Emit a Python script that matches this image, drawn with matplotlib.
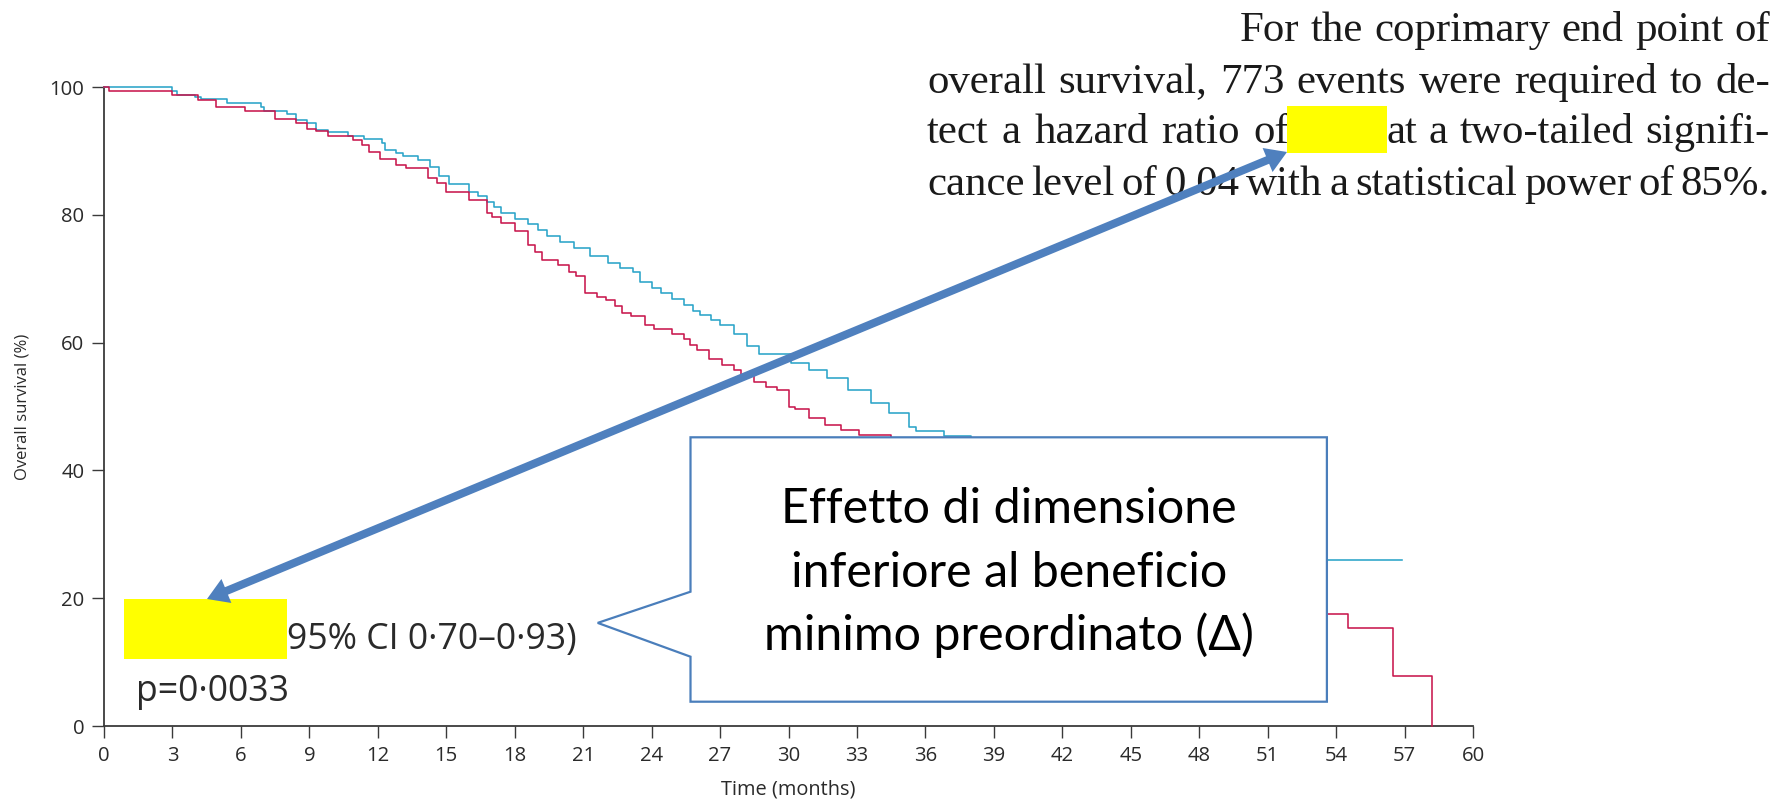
import numpy as np
import matplotlib
matplotlib.use("Agg")
import matplotlib.pyplot as plt
from matplotlib.patches import Polygon, Rectangle
from matplotlib.font_manager import fontManager

# ---------------- data ----------------
blue_t = [0, 3.0, 3.2, 4.0, 4.25, 5.4, 6.9, 7.0, 8.0, 8.4, 8.9, 9.3, 9.8, 10.7, 11.4,
          12.2, 12.3, 12.8, 13.1, 13.75, 14.3, 14.7, 15.1, 16.0, 16.4, 16.8, 17.1, 17.4,
          18.0, 18.6, 19.0, 19.4, 20.0, 20.6, 21.3, 22.1, 22.6, 23.2, 23.5, 24.0, 24.4,
          24.9, 25.4, 25.8, 26.1, 26.6, 27.0, 27.6, 28.2, 28.7,
          30.1, 30.9, 31.7, 32.6, 33.6, 34.4, 35.3, 35.6, 36.8,
          38.0, 39.5, 41.0, 42.5, 44.0, 45.5, 47.0, 49.0, 51.0, 52.5, 56.9]
blue_s = [100, 99.4, 98.8, 98.5, 98.1, 97.5, 96.9, 96.2, 95.8, 94.9, 94.3, 93.3, 93.0,
          92.3, 91.8, 91.2, 90.1, 89.7, 89.2, 88.6, 87.5, 86.0, 84.8, 83.5, 82.9, 82.0,
          81.2, 80.3, 79.4, 78.6, 77.6, 76.7, 75.7, 74.8, 73.6, 72.4, 71.6, 71.0, 69.5,
          68.5, 67.7, 66.8, 65.9, 65.0, 64.3, 63.5, 62.8, 61.3, 59.5, 58.2,
          56.8, 55.7, 54.4, 52.6, 50.5, 49.0, 46.8, 46.1, 45.4,
          43.5, 41.0, 38.5, 36.0, 34.0, 32.0, 30.0, 28.0, 26.9, 25.9, 25.9]

red_t = [0, 0.2, 3.0, 4.1, 4.9, 6.2, 7.5, 8.4, 8.9, 9.3, 9.8, 10.9, 11.3, 11.6, 12.1,
         12.8, 13.25, 14.2, 14.6, 15.0, 16.0, 16.8, 17.0, 17.4, 18.0, 18.6, 18.9, 19.2,
         19.9, 20.4, 20.7, 21.1, 21.6, 22.0, 22.4, 22.7, 23.1, 23.7, 24.1, 24.9, 25.4,
         25.7, 26.0, 26.5, 27.1, 27.6, 27.9, 28.5, 29.0, 29.5, 30.0, 30.3, 30.9, 31.6,
         32.3, 33.1,
         34.5, 36.0, 37.5, 39.0, 40.5, 42.0, 44.0, 46.0, 48.0, 50.0, 52.0, 53.0,
         54.5, 56.5, 58.2]
red_s = [100, 99.4, 98.8, 98.0, 96.8, 96.3, 95.0, 94.3, 93.5, 93.1, 92.4, 91.7, 90.9,
         89.9, 88.7, 87.8, 87.3, 85.7, 84.9, 83.6, 82.3, 80.3, 79.7, 78.7, 77.4, 75.3,
         74.2, 72.9, 72.1, 71.1, 70.4, 67.8, 67.2, 66.6, 65.7, 64.7, 64.1, 62.8, 62.1,
         61.3, 60.5, 59.6, 58.8, 57.5, 56.5, 55.7, 54.7, 53.9, 53.1, 52.6, 50.0, 49.6,
         48.2, 47.1, 46.4, 45.5,
         43.0, 40.5, 38.0, 35.5, 33.0, 30.5, 28.0, 25.5, 23.0, 20.5, 18.5, 17.5,
         15.4, 7.8, 0.0]

x_ticks = list(range(0, 61, 3))
y_ticks = [0, 20, 40, 60, 80, 100]
x_label = "Time (months)"
y_label = "Overall survival (%)"
ci_text = "95% CI 0·70–0·93)"
p_text = "p=0·0033"
callout_lines = ["Effetto di dimensione", "inferiore al beneficio", "minimo preordinato (Δ)"]
quote_line1 = "For the coprimary end point of"
quote_line2 = "overall survival, 773 events were required to de-"
quote_line3a = "tect a hazard ratio of"
quote_line3b = "at a two-tailed signifi-"
quote_line4 = "cance level of 0.04 with a statistical power of 85%."

# ---------------- fonts ----------------
avail = {f.name for f in fontManager.ttflist}
def pick(*names):
    for n in names:
        if n in avail:
            return n
    return "DejaVu Sans"
SANS = pick("Open Sans", "Noto Sans", "DejaVu Sans")
SERIF = pick("Liberation Serif", "DejaVu Serif")
CALL = pick("Lato", "Open Sans", "DejaVu Sans")
plt.rcParams["font.family"] = [SANS, "DejaVu Sans"]

W, H, DPI = 1792, 802, 100
fig = plt.figure(figsize=(W / DPI, H / DPI), dpi=DPI)
fig.patch.set_facecolor("white")

# main axes placement (pixels)
X0, X1, Y0, Y1 = 104, 1473, 726, 87
ax = fig.add_axes([X0 / W, 1 - Y0 / H, (X1 - X0) / W, (Y0 - Y1) / H])
ax.step(blue_t, blue_s, where="post", color="#2aa4c9", lw=1.15, clip_on=False, zorder=3)
ax.step(red_t, red_s, where="post", color="#c8184e", lw=1.15, clip_on=False, zorder=3)
ax.set_xlim(0, 60)
ax.set_ylim(0, 100)
ax.set_xticks(x_ticks)
ax.set_yticks(y_ticks)
for s in ["top", "right"]:
    ax.spines[s].set_visible(False)
for s in ["left", "bottom"]:
    ax.spines[s].set_color("#3a3a3a")
    ax.spines[s].set_linewidth(1.3)
ax.tick_params(axis="both", length=8.6, width=1.0, color="#3a3a3a",
               labelsize=14.6, labelcolor="#2a2a2a")
ax.tick_params(axis="x", pad=6)
ax.tick_params(axis="y", pad=5.5)
ax.set_xlabel(x_label, fontsize=14.4, color="#2a2a2a")
ax.xaxis.set_label_coords(0.5, -(789 - Y0) / (Y0 - Y1))
ax.xaxis.label.set_va("center")
ax.set_ylabel(y_label, fontsize=12, color="#2a2a2a")
ax.yaxis.set_label_coords((23 - X0) / (X1 - X0), 0.5)
ax.yaxis.label.set_va("center")
ax.yaxis.label.set_ha("center")

# overlay axes in pixel coordinates
ov = fig.add_axes([0, 0, 1, 1], zorder=10)
ov.set_xlim(0, W)
ov.set_ylim(H, 0)
ov.axis("off")
ov.patch.set_alpha(0)

r = fig.canvas.get_renderer()

def text_w(s, **kw):
    t = ov.text(0, 0, s, **kw)
    w = t.get_window_extent(renderer=r).width
    t.remove()
    return w

def justify(words, xa, xb, y, **kw):
    ws = [text_w(w, **kw) for w in words]
    gap = (xb - xa - sum(ws)) / max(len(words) - 1, 1)
    x = xa
    for w, wd in zip(words, ws):
        ov.text(x, y, w, ha="left", va="baseline", **kw)
        x += wd + gap

# ---- serif quote (top right) ----
QL, QR = 927, 1770
spans = [(quote_line1, 1240, QR), (quote_line2, QL, QR), (quote_line3a, QL, 1289),
         (quote_line3b, 1386, QR), (quote_line4, QL, QR)]
BASE = 31.0
qfs = BASE
for line, a, b in spans:
    words = line.split()
    tot = sum(text_w(w, family=SERIF, fontsize=BASE) for w in words)
    avail_w = b - a - 7 * (len(words) - 1)
    if tot > avail_w:
        qfs = min(qfs, BASE * avail_w / tot)
qkw = dict(family=SERIF, fontsize=qfs, color="#1a1a1a", zorder=2)
for (line, a, b), yb in zip(spans, [40.7, 92.7, 143.3, 143.3, 195]):
    justify(line.split(), a, b, yb, **qkw)

# ---- lower-left HR text ----
cfs = 28 * min(1.0, 291 / text_w(ci_text, family=SANS, fontsize=28))
ov.text(287, 649, ci_text, family=SANS, fontsize=cfs, color="#2a2a2a",
        ha="left", va="baseline", zorder=2)
ov.text(136, 701, p_text, family=SANS, fontsize=cfs, color="#2a2a2a",
        ha="left", va="baseline", zorder=2)

# ---- yellow masks ----
ov.add_patch(Rectangle((1287, 106), 99.5, 46.5, facecolor="#ffff00", edgecolor="none", zorder=3))
ov.add_patch(Rectangle((124, 599), 162.6, 60.3, facecolor="#ffff00", edgecolor="none", zorder=3))

# ---- callout box ----
call_poly = [(690.5, 437.3), (1326.9, 437.3), (1326.9, 701.7), (690.5, 701.7),
             (690.5, 656.7), (597.7, 622.9), (690.5, 591.7)]
ov.add_patch(Polygon(call_poly, closed=True, facecolor="white", edgecolor="#4a7ebb",
                     lw=1.6, joinstyle="miter", zorder=4))
kfs = 36 * 457 / text_w(callout_lines[0], family=[CALL, "DejaVu Sans"], fontsize=36)
for line, yb in zip(callout_lines, [523.3, 586.7, 650]):
    ov.text(1009, yb, line, family=[CALL, "DejaVu Sans"], fontsize=kfs, color="black",
            ha="center", va="baseline", zorder=5)

# ---- double-headed arrow ----
A = np.array([207.0, 599.0])
B = np.array([1287.0, 152.0])
u = (B - A) / np.linalg.norm(B - A)
n = np.array([-u[1], u[0]])
HL, HW = 21.0, 13.0
acol = "#4f80be"
pA = A + u * HL * 0.9
pB = B - u * HL * 0.9
ov.plot([pA[0], pB[0]], [pA[1], pB[1]], color=acol, lw=5.8, solid_capstyle="butt", zorder=6)
for tip, d in [(A, u), (B, -u)]:
    b = tip + d * HL
    ov.add_patch(Polygon([tip, b + n * HW, b - n * HW], closed=True, facecolor=acol,
                         edgecolor="none", zorder=6))

fig.savefig("out.png", dpi=DPI, facecolor="white")
